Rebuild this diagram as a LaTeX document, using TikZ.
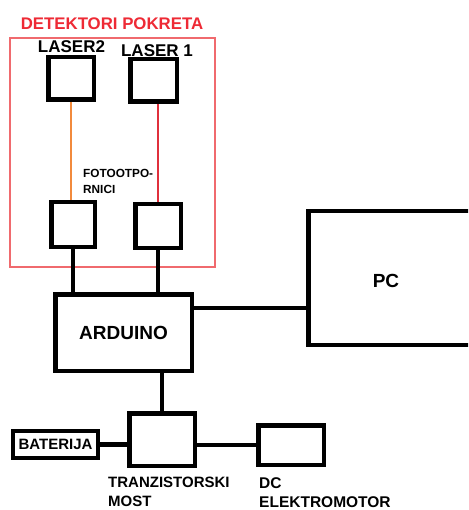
\documentclass[tikz,border=0pt]{standalone}
\usepackage{fontspec}
\setmainfont{Liberation Sans}
\definecolor{detRed}{HTML}{F06A6E}
\definecolor{titleRed}{HTML}{EE2A35}
\definecolor{beamOrange}{HTML}{F28A3C}
\definecolor{beamRed}{HTML}{E0303C}
\usepackage{tikz}
\usetikzlibrary{positioning}
\tikzset{
    block node/.style={rectangle, draw=black, line width=4.5pt, fill=white, inner sep=0pt, align=center, font=\fontsize{19}{22}\selectfont\bfseries},
    small block/.style={block node, minimum width=45pt, minimum height=43pt},
    wire style/.style={line width=4.5pt, black},
    beam style/.style={line width=1.1pt},
    label text/.style={inner sep=0pt, align=left, font=\fontsize{15}{19}\selectfont\bfseries},
}

\begin{document}
\begin{tikzpicture}[x=1pt, y=-1pt]
        \clip (0,0) rectangle (468,510);
        \fill[white] (0,0) rectangle (468,510);
        % motion detectors
        \node[rectangle, draw=detRed, line width=1.3pt, minimum width=205pt, minimum height=229pt, inner sep=0pt] (detektori) at (112.5,152.5) {};
        \node[label text, text=titleRed, font=\fontsize{16.8}{19}\selectfont\bfseries] (title) at (112,23.5) {DETEKTORI POKRETA};
        \node[small block, minimum width=45.5pt, minimum height=42.5pt] (laser2) at (71,78.5) {};
        \node[small block, minimum width=46.5pt, minimum height=42.5pt] (laser1) at (153.5,80.5) {};
        \node[label text, font=\fontsize{17}{20}\selectfont\bfseries] (laser2 label) at (71.5,47) {LASER2};
        \node[label text, font=\fontsize{17}{20}\selectfont\bfseries] (laser1 label) at (157,51) {LASER 1};
        \node[small block, minimum width=43.5pt, minimum height=44.5pt] (photoL) at (73,224.5) {};
        \node[small block, minimum width=45.5pt, minimum height=43.5pt] (photoR) at (158,226) {};
        \node[label text, anchor=west, font=\fontsize{11.8}{16}\selectfont\bfseries] (foto label) at (83,181) {FOTOOTPO-\\RNICI};
        \draw[beam style, draw=beamOrange] (laser2.south) -- (laser2.south |- photoL.north);
        \draw[beam style, draw=beamRed] (photoR.north) -- (photoR.north |- laser1.south);
        % controller and pc
        \node[block node, minimum width=136.5pt, minimum height=76.5pt] (arduino) at (123.5,332.5) {ARDUINO};
        \node[block node, minimum width=200pt, minimum height=134pt, anchor=west] (pc) at (306,278) {};
        \node[label text, font=\fontsize{19}{22}\selectfont\bfseries] (pc label) at (386,281) {PC};
        \draw[wire style] (photoL.south) -- (photoL.south |- arduino.north);
        \draw[wire style] (photoR.south) -- (photoR.south |- arduino.north);
        \draw[wire style] ([yshift=24.5pt]arduino.east) -- ([yshift=24.5pt]arduino.east -| pc.west);
        % motor driver
        \node[block node, minimum width=65.5pt, minimum height=52.5pt] (most) at (162,439.5) {};
        \node[block node, line width=4pt, minimum width=85pt, minimum height=27pt, font=\fontsize{15}{18}\selectfont\bfseries] (baterija) at (55.5,444.5) {BATERIJA};
        \node[block node, minimum width=65.5pt, minimum height=39.5pt] (motor) at (291,445) {};
        \node[label text, anchor=west] (most label) at (108,491.5) {TRANZISTORSKI\\MOST};
        \node[label text, anchor=west, font=\fontsize{15.5}{19}\selectfont\bfseries] (motor label) at (259,492.5) {DC\\ELEKTROMOTOR};
        \draw[wire style] (most.north) -- (most.north |- arduino.south);
        \draw[wire style] (baterija.east) -- (baterija.east -| most.west);
        \draw[wire style] (motor.west) -- (motor.west -| most.east);
    \end{tikzpicture}
\end{document}
